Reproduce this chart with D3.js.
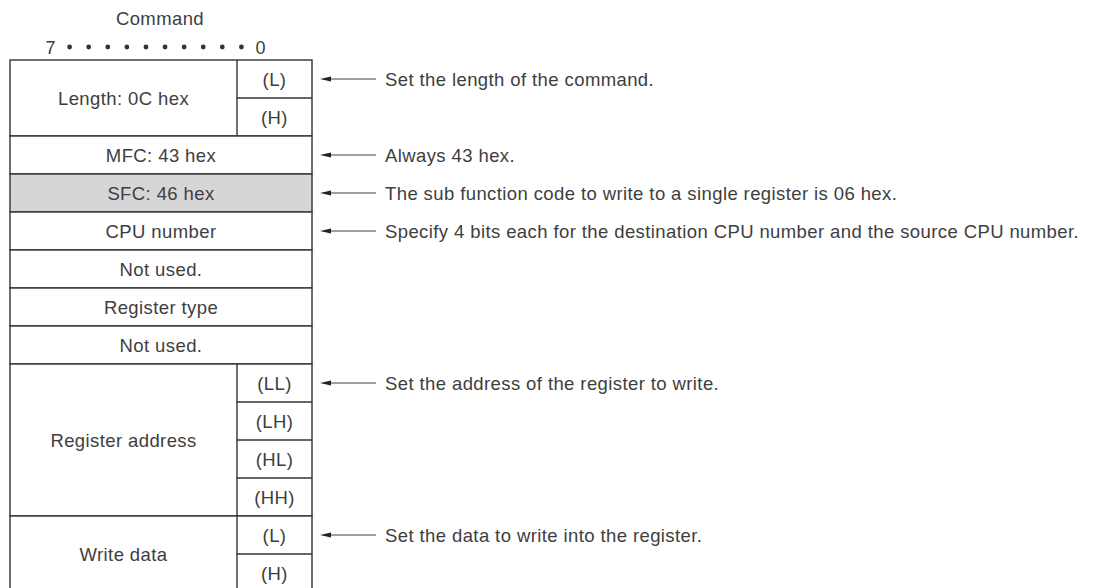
<!DOCTYPE html>
<html><head><meta charset="utf-8">
<script src="https://cdn.jsdelivr.net/npm/d3@7"></script>
<style>
html,body{margin:0;padding:0;background:#fff;}
svg text{font-family:"Liberation Sans",Arial,Helvetica,sans-serif;fill:#3e3e3e;font-size:18.5px;letter-spacing:0.4px;}
</style></head>
<body><svg id="c" width="1094" height="588"></svg>
<script>
// ---- data ----
const title = "Command";
const bitLabels = ["7","","","","","","","","","","","0"];
const fieldNames = ["Length: 0C hex","MFC: 43 hex","SFC: 46 hex","CPU number","Not used.","Register type","Not used.","Register address","Write data"];
const fieldBytes = [2,1,1,1,1,1,1,4,2];
const fieldShaded = [false,false,true,false,false,false,false,false,false];
const subLabels = [["(L)","(H)"],[],[],[],[],[],[],["(LL)","(LH)","(HL)","(HH)"],["(L)","(H)"]];
const noteRows = [0,2,3,4,8,12];
const noteTexts = [
  "Set the length of the command.",
  "Always 43 hex.",
  "The sub function code to write to a single register is 06 hex.",
  "Specify 4 bits each for the destination CPU number and the source CPU number.",
  "Set the address of the register to write.",
  "Set the data to write into the register."
];

// ---- layout ----
const svg = d3.select("#c");
const totalBytes = d3.sum(fieldBytes);
const y = d3.scaleLinear().domain([0,totalBytes]).range([60, 60+totalBytes*38]);
const x = d3.scaleLinear().domain([0,1]).range([10,312]);
const xDiv = 237;
const bitX = d3.scalePoint().domain(d3.range(bitLabels.length)).range([50.5,260.5]);
const stroke = "#333";
const dy = 6.6;

svg.append("text").attr("x",160).attr("y",25).attr("text-anchor","middle").text(title);

const bits = svg.append("g");
bitLabels.forEach((b,i)=>{
  if(b) bits.append("text").attr("x",bitX(i)).attr("y",53.5).attr("text-anchor","middle").style("font-size","18px").style("letter-spacing","0px").text(b);
  else bits.append("circle").attr("cx",bitX(i)).attr("cy",47).attr("r",2.4).attr("fill","#333");
});

// fields
let start = 0;
const fields = fieldNames.map((n,i)=>{const f={name:n,start:start,bytes:fieldBytes[i],shaded:fieldShaded[i],subs:subLabels[i]};start+=fieldBytes[i];return f;});

const g = svg.append("g");
fields.forEach(f=>{
  const y0=y(f.start), y1=y(f.start+f.bytes);
  g.append("rect").attr("x",x(0)).attr("y",y0).attr("width",x(1)-x(0)).attr("height",y1-y0)
    .attr("fill",f.shaded?"#d6d6d6":"#fff").attr("stroke",stroke).attr("stroke-width",1.4);
  const hasSubs = f.subs.length>0;
  const cx = hasSubs ? (x(0)+xDiv)/2 : (x(0)+x(1))/2;
  g.append("text").attr("x",cx).attr("y",(y0+y1)/2+dy).attr("text-anchor","middle").text(f.name);
  if(hasSubs){
    g.append("line").attr("x1",xDiv).attr("x2",xDiv).attr("y1",y0).attr("y2",y1).attr("stroke",stroke).attr("stroke-width",1.4);
    f.subs.forEach((s,k)=>{
      const sy0=y(f.start+k), sy1=y(f.start+k+1);
      if(k>0) g.append("line").attr("x1",xDiv).attr("x2",x(1)).attr("y1",sy0).attr("y2",sy0).attr("stroke",stroke).attr("stroke-width",1.4);
      g.append("text").attr("x",(xDiv+x(1))/2).attr("y",(sy0+sy1)/2+dy).attr("text-anchor","middle").text(s);
    });
  }
});

// notes with arrows
const notes = svg.append("g");
noteRows.forEach((r,i)=>{
  const cy = (y(r)+y(r+1))/2;
  notes.append("line").attr("x1",328).attr("x2",376).attr("y1",cy).attr("y2",cy).attr("stroke","#444").attr("stroke-width",1.1);
  notes.append("path").attr("d",`M320,${cy} L331,${cy-2.6} L331,${cy+2.6} Z`).attr("fill","#222");
  notes.append("text").attr("x",385).attr("y",cy+dy).text(noteTexts[i]);
});
</script></body></html>
